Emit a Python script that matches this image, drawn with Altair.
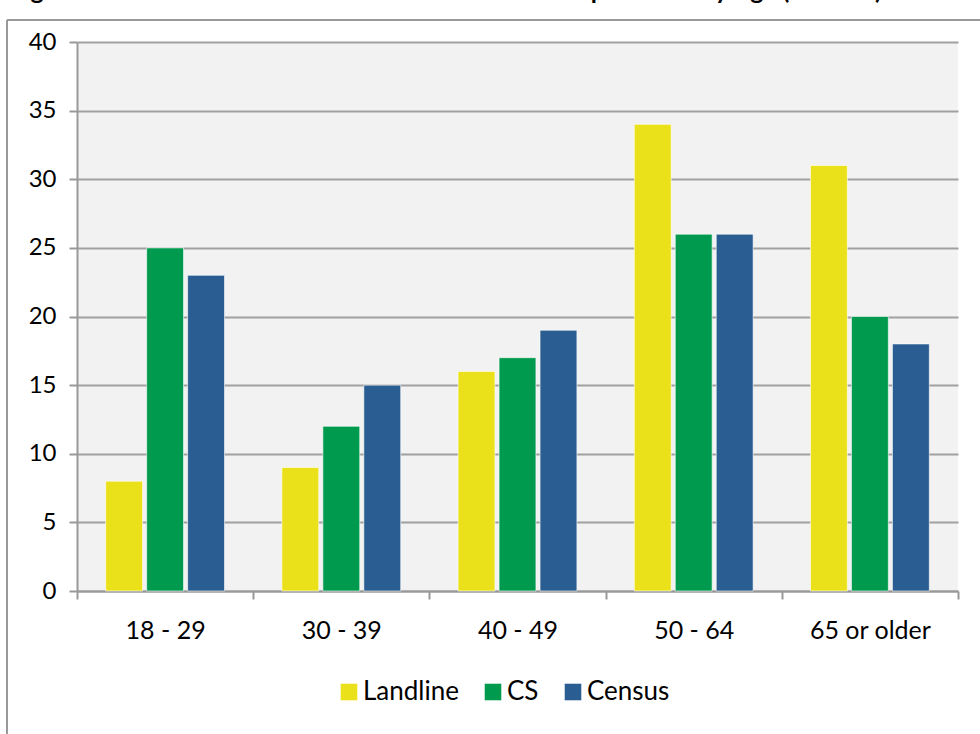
import altair as alt
import pandas as pd

categories = ["18 - 29", "30 - 39", "40 - 49", "50 - 64", "65 or older"]
series = ["Landline", "CS", "Census"]
landline = [8, 9, 16, 34, 31]
cs = [25, 12, 17, 26, 20]
census = [23, 15, 19, 26, 18]
colors = ["#EBE11A", "#009A4E", "#2A5D91"]
title_text = "Figure 3: Distribution of Landline CS and Census Respondents by Age (Percent)"

rows = []
for i, c in enumerate(categories):
    for s, vals in zip(series, [landline, cs, census]):
        rows.append({"Age": c, "Series": s, "Percent": vals[i]})
df = pd.DataFrame(rows)

W, H = 881, 549
FONT = "Lato"

bars = alt.Chart(df).mark_bar(stroke="#ffffff", strokeOpacity=0.6, strokeWidth=1).encode(
    x=alt.X("Age:N", sort=categories, title=None,
            scale=alt.Scale(paddingInner=0, paddingOuter=0),
            axis=alt.Axis(labelAngle=0, tickBand="extent", tickSize=8, tickColor="#999999",
                          tickWidth=2, domainColor="#999999", domainWidth=2,
                          labelFontSize=25, labelFont=FONT, labelColor="#000000",
                          labelPadding=19, grid=False)),
    xOffset=alt.XOffset("Series:N", sort=series,
                        scale=alt.Scale(paddingInner=0.1, paddingOuter=0.7)),
    y=alt.Y("Percent:Q", title=None,
            scale=alt.Scale(domain=[0, 40]),
            axis=alt.Axis(values=[0, 5, 10, 15, 20, 25, 30, 35, 40], tickSize=8,
                          tickColor="#999999", tickWidth=2, domainColor="#999999",
                          domainWidth=2, gridColor="#A0A0A0", gridWidth=2,
                          labelFontSize=24, labelFont=FONT, labelColor="#000000",
                          labelPadding=13)),
    color=alt.Color("Series:N", sort=series,
                    scale=alt.Scale(domain=series, range=colors),
                    legend=alt.Legend(title=None, orient="none", direction="horizontal",
                                      legendX=259, legendY=637,
                                      symbolType="square", symbolSize=275,
                                      symbolStrokeWidth=0,
                                      labelFontSize=26, labelFont=FONT, labelColor="#000000",
                                      columnPadding=21, labelOffset=1)),
)

frame_df = pd.DataFrame({"k": [0]})
left_rule = alt.Chart(frame_df).mark_rule(color="#999999", strokeWidth=2).encode(
    x=alt.value(-70), y=alt.value(-22), y2=alt.value(H + 200))
top_rule = alt.Chart(frame_df).mark_rule(color="#999999", strokeWidth=2).encode(
    x=alt.value(-70), x2=alt.value(W + 40), y=alt.value(-22))
title_mark = alt.Chart(frame_df).mark_text(
    align="left", baseline="alphabetic", font=FONT, fontSize=25, fontWeight="bold",
    color="#000000").encode(x=alt.value(-67), y=alt.value(-43), text=alt.value(title_text))

chart = alt.layer(bars, left_rule, top_rule, title_mark).properties(
    width=W, height=H,
    autosize=alt.AutoSizeParams(type="none"),
    padding={"left": 77, "top": 42, "right": 22, "bottom": 143},
    background="#ffffff",
).configure_view(fill="#F2F2F2", stroke=None)

chart.save("out.html", embed_options={"renderer": "svg", "actions": False})
